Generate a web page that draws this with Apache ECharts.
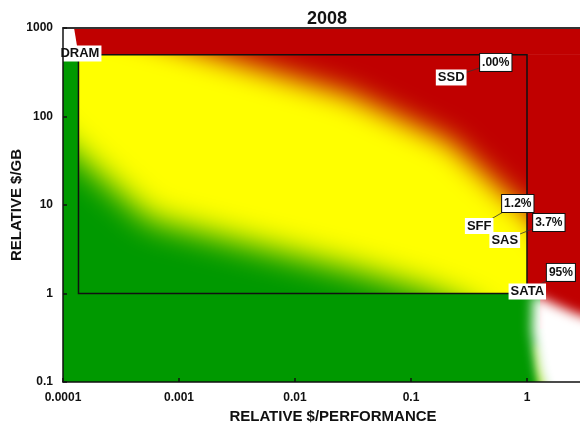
<!DOCTYPE html>
<html>
<head>
<meta charset="utf-8">
<script src="https://cdn.jsdelivr.net/npm/echarts@6/dist/echarts.min.js"></script>
<style>
  html, body { margin: 0; padding: 0; background: #fff; }
  #chart { width: 580px; height: 427px; }
</style>
</head>
<body>
<div id="chart"></div>
<script>
// Storage tiers and their share call-outs
const tiers  = ['DRAM', 'SSD', 'SFF', 'SAS', 'SATA'];
const shares = ['', '.00%', '1.2%', '3.7%', '95%'];
const tierX  = [0.000140, 0.222, 0.387, 0.643, 1.006];
const tierY  = [515, 276, 5.79, 4.02, 1.05];
const shareX = [null, 0.538, 0.833, 1.543, 1.96];
const shareY = [null, 408, 10.4, 6.34, 1.73];

// Envelope spanned by DRAM (upper left) and SATA (lower right)
const envelopeX = [0.000136, 1];
const envelopeY = [1, 500];

// Where the yellow band turns red (upper right side)
const redEdgeX = [9.37e-5, 5.59e-4, 2.735e-3, 0.0296, 0.2157, 0.709, 1.014, 1.91, 4.23];
const redEdgeY = [1597, 791, 435, 175, 51.5, 12.3, 8.34, 3.10, 0.845];

// Where the yellow band turns green (lower left side)
const greenEdgeX = [6.30e-5, 9.37e-5, 1.60e-4, 5.59e-4, 4.07e-3, 0.0361, 0.145, 0.391];
const greenEdgeY = [91.3, 54.3, 28.3, 6.77, 3.53, 1.75, 1.04, 0.618];

// White area beyond SATA, with a lime fringe along its lower left side
const whiteEdgeX = [1.12, 1.57, 2.68, 13.9, 13.9, 1.91, 1.42, 1.24, 1.10];
const whiteEdgeY = [0.987, 0.802, 0.587, 0.298, 0.0131, 0.0131, 0.0771, 0.137, 0.387];
const fringeX = [1.19, 1.34, 1.63, 1.29];
const fringeY = [0.262, 0.262, 0.0713, 0.0713];

// Axis ranges and tick labels
const xRange = [0.0001, 10];
const yRange = [0.1, 1000];
const xTickLabels = ['0.0001', '0.001', '0.01', '0.1', '1', '10'];
const yTickLabels = ['0.1', '1', '10', '100', '1000'];

const RED = '#C00000', YELLOW = '#FFFF00', GREEN = '#009900', WHITE = '#FFFFFF', LIME = '#A6E000';
const FONT = "'Liberation Sans', Arial, sans-serif";

function zip(xs, ys) { return xs.map((x, i) => [x, ys[i]]); }

// A filled shape with a soft edge: only its blurred shadow lands on the plot
function softShape(points, color, blur, clip) {
  const OFF = 3000;
  const el = {
    type: 'polygon',
    shape: { points: points.map(p => [p[0] - OFF, p[1]]) },
    style: { fill: color, shadowColor: color, shadowBlur: blur, shadowOffsetX: OFF, shadowOffsetY: 0 }
  };
  if (clip) el.clipPath = { type: 'rect', shape: clip };
  return el;
}

function rectBetween(api, x0, y0, x1, y1, color) {
  const a = api.coord([x0, y1]);
  const b = api.coord([x1, y0]);
  return { type: 'rect', shape: { x: a[0], y: a[1], width: b[0] - a[0], height: b[1] - a[1] }, style: { fill: color } };
}

function renderBackground(params, api) {
  const [ex0, ex1] = envelopeX, [ey0, ey1] = envelopeY;
  const [xmin, xmax] = xRange, [ymin, ymax] = yRange;
  const tl = api.coord([ex0, ey1]);
  const br = api.coord([ex1, ey0]);
  const inner = { x: tl[0], y: tl[1], width: br[0] - tl[0], height: br[1] - tl[1] };
  const px = p => api.coord(p);

  // Yellow band: bounded by the red edge, open towards the lower left
  const yellowPts = zip(redEdgeX, redEdgeY).concat([[100, 0.845], [100, 0.001], [1e-6, 0.001], [1e-6, 1597]]).map(px);
  // Green: bounded by the green edge, open towards the lower left
  const greenPts = zip(greenEdgeX, greenEdgeY).concat([[3, 0.001], [1e-6, 0.001], [1e-6, 91.3]]).map(px);
  const whitePts = zip(whiteEdgeX, whiteEdgeY).map(px);
  const fringePts = zip(fringeX, fringeY).map(px);
  const cornerPts = [[xmin, ymax], [0.0001245, ymax], [ex0, ey1], [xmin, ey1]].map(px);

  return {
    type: 'group',
    children: [
      rectBetween(api, ex0, ey0, ex1, ey1, RED),
      softShape(yellowPts, YELLOW, 28, inner),
      softShape(greenPts, GREEN, 32, inner),
      rectBetween(api, xmin, ey1, xmax, ymax, RED),
      rectBetween(api, xmin, ymin, ex0, ey1, GREEN),
      rectBetween(api, xmin, ymin, xmax, ey0, GREEN),
      rectBetween(api, ex1, ey0, xmax, ey1 * 1.01, RED),
      rectBetween(api, ex1 * 1.3, ey0 * 0.4, xmax, ey0 * 1.01, RED),
      { type: 'polygon', shape: { points: cornerPts }, style: { fill: WHITE } },
      softShape(fringePts, LIME, 8, null),
      softShape(whitePts, WHITE, 12, null)
    ]
  };
}

function renderCallouts(params, api) {
  const children = [];
  const tl = api.coord([envelopeX[0], envelopeY[1]]);
  const br = api.coord([envelopeX[1], envelopeY[0]]);
  children.push({
    type: 'rect',
    shape: { x: tl[0], y: tl[1], width: br[0] - tl[0], height: br[1] - tl[1] },
    style: { fill: 'none', stroke: '#111', lineWidth: 1.5 }
  });
  tiers.forEach((name, i) => {
    const p = api.coord([tierX[i], tierY[i]]);
    if (shares[i]) {
      const q = api.coord([shareX[i], shareY[i]]);
      children.push({
        type: 'line',
        shape: { x1: p[0], y1: p[1], x2: q[0], y2: q[1] },
        style: { stroke: '#333', lineWidth: 0.8 }
      });
    }
  });
  tiers.forEach((name, i) => {
    const p = api.coord([tierX[i], tierY[i]]);
    children.push({
      type: 'text', x: p[0], y: p[1],
      style: {
        text: name, fill: '#111', fontSize: 13, fontWeight: 'bold', fontFamily: FONT,
        align: 'center', verticalAlign: 'middle', backgroundColor: '#fff', padding: [2, 2, 1, 2]
      }
    });
    if (shares[i]) {
      const q = api.coord([shareX[i], shareY[i]]);
      children.push({
        type: 'text', x: q[0], y: q[1],
        style: {
          text: shares[i], fill: '#111', fontSize: 12, fontWeight: 'bold', fontFamily: FONT,
          align: 'center', verticalAlign: 'middle', backgroundColor: '#fff',
          borderColor: '#111', borderWidth: 1, padding: [3, 2, 2, 2]
        }
      });
    }
  });
  return { type: 'group', children };
}

const axisLabelStyle = { color: '#111', fontSize: 12, fontWeight: 'bold', fontFamily: FONT };
const decadeIndex = (v, base) => Math.round(Math.log10(v)) - base;

const chart = echarts.init(document.getElementById('chart'), null, { renderer: 'canvas' });
chart.setOption({
  animation: false,
  backgroundColor: '#fff',
  title: {
    text: '2008', left: 302, top: 5,
    textStyle: { fontSize: 18, fontWeight: 'bold', fontFamily: FONT, color: '#111' }
  },
  grid: { left: 63, right: -63, top: 28, bottom: 45, outerBoundsMode: 'none', containLabel: false },
  xAxis: [{
    type: 'log', logBase: 10, min: xRange[0], max: xRange[1], z: 10,
    axisLine: { lineStyle: { color: '#111', width: 1.5 } },
    axisTick: { inside: true, length: 4, lineStyle: { color: '#111', width: 1.5 } },
    axisLabel: Object.assign({ margin: 10, formatter: v => xTickLabels[decadeIndex(v, -4)] }, axisLabelStyle),
    splitLine: { show: false },
    name: 'RELATIVE $/PERFORMANCE', nameLocation: 'middle', nameGap: 27, nameMoveOverlap: false,
    nameTextStyle: { fontSize: 15, fontWeight: 'bold', fontFamily: FONT, color: '#111', padding: [0, 40, 0, 0] }
  }, {
    type: 'log', logBase: 10, min: xRange[0], max: xRange[1], position: 'top', z: 10,
    axisLine: { lineStyle: { color: '#333', width: 2 } },
    axisTick: { show: false }, axisLabel: { show: false }, splitLine: { show: false }
  }],
  yAxis: {
    type: 'log', logBase: 10, min: yRange[0], max: yRange[1], z: 10,
    axisLine: { lineStyle: { color: '#111', width: 1.5 } },
    axisTick: { inside: true, length: 4, lineStyle: { color: '#111', width: 1.5 } },
    axisLabel: Object.assign({ margin: 10, formatter: v => yTickLabels[decadeIndex(v, -1)] }, axisLabelStyle),
    splitLine: { show: false },
    name: 'RELATIVE $/GB', nameLocation: 'middle', nameGap: 39, nameMoveOverlap: false,
    nameTextStyle: { fontSize: 15, fontWeight: 'bold', fontFamily: FONT, color: '#111' }
  },
  series: [{
    type: 'custom', name: 'regions', coordinateSystem: 'cartesian2d', xAxisIndex: 0,
    silent: true, clip: true, data: [[1, 1]], renderItem: renderBackground
  }, {
    type: 'custom', name: 'tiers', coordinateSystem: 'cartesian2d', xAxisIndex: 0,
    silent: true, clip: false, data: [[1, 1]], renderItem: renderCallouts
  }]
});
</script>
</body>
</html>
